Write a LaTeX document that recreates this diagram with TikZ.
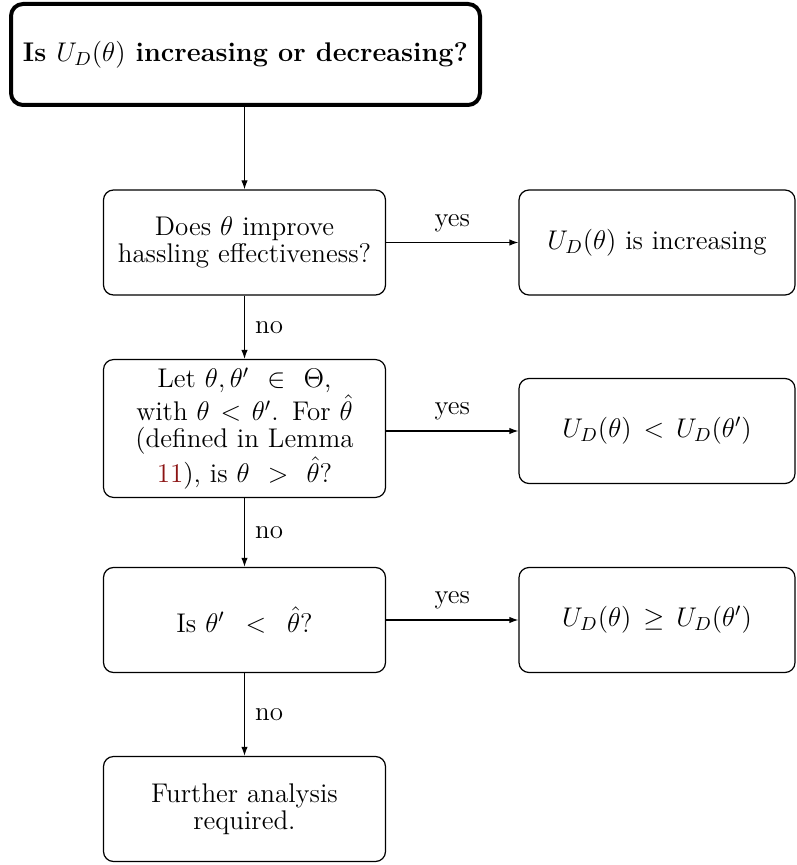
\RequirePackage{fix-cm}
\documentclass[tikz,border=0pt]{standalone}
\usetikzlibrary{arrows.meta}
\definecolor{linkred}{rgb}{0.55,0.08,0.08}
\tikzset{
  base/.style={font=\fontsize{13.5}{13.5}\selectfont},
  box/.style={base, draw, line width=0.6pt, rounded corners=5pt, align=center,
    text width=132pt, inner xsep=4.5pt, inner ysep=4pt, minimum height=52.5pt},
  rbox/.style={base, draw, line width=0.6pt, rounded corners=5pt, align=center,
    minimum width=138pt, minimum height=52.5pt},
  topbox/.style={base, draw, line width=2pt, rounded corners=6pt,
    minimum width=234.5pt, minimum height=50.5pt},
  arr/.style={-{Latex[length=4.5pt,width=3.2pt]}, line width=0.6pt},
  yeslab/.style={base, above, inner sep=5pt},
  nolab/.style={base, right, inner sep=5pt}
}
\begin{document}
\begin{tikzpicture}
\useasboundingbox (0pt,0pt) rectangle (398pt,-432.5pt);

\node[topbox] (top) at (122.75pt,-27.25pt)
  {\bfseries Is $U_D(\theta)$ increasing or decreasing?};

\node[box] (b2) at (122.25pt,-121.25pt) {Does $\theta$ improve hassling effectiveness?};
\node[box] (b3) at (122.25pt,-214.25pt)
  {Let $\theta,\theta'\,\in\,\Theta$,\\ with $\theta<\theta'$. For $\hat{\theta}$\\ (defined in Lemma\\ \textcolor{linkred}{11}), is $\theta\,>\,\hat{\theta}$?};
\node[box] (b4) at (122.25pt,-310pt) {Is $\theta'\,<\,\hat{\theta}$?};
\node[box] (b5) at (122.25pt,-404.5pt) {Further analysis\\ required.};

\node[rbox] (r1) at (328.5pt,-121.25pt) {$U_D(\theta)$ is increasing};
\node[rbox] (r2) at (328.5pt,-215.5pt) {$U_D(\theta)\,<\,U_D(\theta')$};
\node[rbox] (r3) at (328.5pt,-310pt) {$U_D(\theta)\,\geq\,U_D(\theta')$};

\draw[arr] (top.south -| b2.north) -- (b2.north);
\draw[arr] (b2.south) -- node[nolab] {no} (b3.north);
\draw[arr] (b3.south) -- node[nolab] {no} (b4.north);
\draw[arr] (b4.south) -- node[nolab] {no} (b5.north);

\draw[arr] (b2.east |- r1.west) -- node[yeslab] {yes} (r1.west);
\draw[arr] (b3.east |- r2.west) -- node[yeslab] {yes} (r2.west);
\draw[arr] (b4.east |- r3.west) -- node[yeslab] {yes} (r3.west);
\end{tikzpicture}
\end{document}
